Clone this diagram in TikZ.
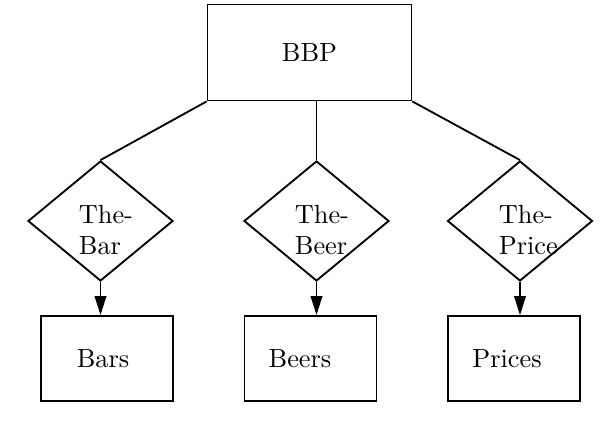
\documentclass[tikz,border=0pt]{standalone}
\usepackage{tikz}
\usetikzlibrary{shapes.geometric,arrows.meta}

\begin{document}
\begin{tikzpicture}[x=0.38pt, y=-0.38pt, line width=0.7pt,
    entity/.style={draw, rectangle, inner sep=0pt, minimum width=50.2pt, minimum height=32.3pt},
    relship/.style={draw, diamond, inner sep=0pt, minimum width=55.1pt, minimum height=45.6pt},
    txt/.style={inner sep=0pt, font=\normalsize}]
    \useasboundingbox (0,0) rectangle (604,429);
    % top box
    \node[entity, minimum width=77.5pt, minimum height=36.5pt] (bbp) at (309.5,52.5) {BBP};
    % relationships
    \node[relship] (bar) at (100.5,221) {};
    \node[relship] (beer) at (316.5,221) {};
    \node[relship] (price) at (520,221) {};
    \node[txt, anchor=west, align=left] (bar-t) at (78,230) {The-\\Bar};
    \node[txt, anchor=west, align=left] (beer-t) at (294,230) {The-\\Beer};
    \node[txt, anchor=west, align=left] (price-t) at (498,230) {The-\\Price};
    % entity sets
    \node[entity] (bars) at (107,358.5) {};
    \node[entity] (beers) at (310.5,358.5) {};
    \node[entity] (prices) at (514,358.5) {};
    \node[txt] (bars-t) at (103,358.5) {Bars};
    \node[txt] (beers-t) at (300,358.5) {Beers};
    \node[txt] (prices-t) at (507,358.5) {Prices};
    % connectors
    \draw (bbp.south west) -- (bar.north);
    \draw (bbp.south -| beer.north) -- (beer.north);
    \draw (bbp.south east) -- (price.north);
    \draw[-{Triangle[length=7.2pt, width=4.4pt]}] (bar.south) -- (bar.south |- bars.north);
    \draw[-{Triangle[length=7.2pt, width=4.4pt]}] (beer.south) -- (beer.south |- beers.north);
    \draw[-{Triangle[length=7.2pt, width=4.4pt]}] (price.south) -- (price.south |- prices.north);
\end{tikzpicture}
\end{document}
